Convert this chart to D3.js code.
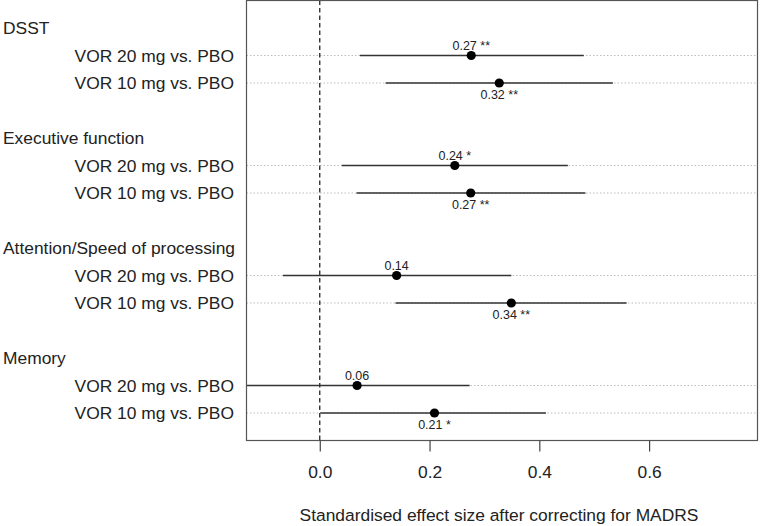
<!DOCTYPE html>
<html><head><meta charset="utf-8">
<script src="https://cdn.jsdelivr.net/npm/d3@7"></script>
<style>body{margin:0;background:#fff}svg{display:block;font-family:"Liberation Sans",Arial,sans-serif}</style>
</head><body><svg id="c" width="760" height="526"></svg>
<script>
const groups = ["DSST", "Executive function", "Attention/Speed of processing", "Memory"];
const comparisons = ["VOR 20 mg vs. PBO", "VOR 10 mg vs. PBO"];
const estimates = [0.276, 0.327, 0.246, 0.275, 0.140, 0.349, 0.068, 0.209];
const lower     = [0.073, 0.120, 0.040, 0.067, -0.067, 0.138, -0.15, 0.001];
const upper     = [0.481, 0.534, 0.452, 0.484, 0.349, 0.559, 0.273, 0.412];
const pointLabels = ["0.27 **", "0.32 **", "0.24 *", "0.27 **", "0.14", "0.34 **", "0.06", "0.21 *"];
const xTicks = [0.0, 0.2, 0.4, 0.6];
const xTickLabels = ["0.0", "0.2", "0.4", "0.6"];
const xTitle = "Standardised effect size after correcting for MADRS";

const svg = d3.select("#c");
const L = 246.5, R = 757.5, T = 0.5, B = 440.5;
const FS = 17.4;
const x = d3.scaleLinear().domain([-0.1335, 0.7975]).range([L, R]);
const y = d3.scaleLinear().domain([-1, 15]).range([T, B]);

const rows = [];
groups.forEach((g, gi) => {
  comparisons.forEach((c, ci) => {
    const i = gi * 2 + ci;
    rows.push({g: gi, c: ci, row: gi * 4 + 1 + ci, est: estimates[i], lo: lower[i], hi: upper[i], lab: pointLabels[i], name: c});
  });
});

svg.append("clipPath").attr("id", "clip").append("rect")
  .attr("x", L).attr("y", T).attr("width", R - L).attr("height", B - T);
const plot = svg.append("g").attr("clip-path", "url(#clip)");

plot.selectAll("line.grid").data(rows).join("line")
  .attr("x1", L).attr("x2", R)
  .attr("y1", d => y(d.row)).attr("y2", d => y(d.row))
  .attr("stroke", "#bdbdbd").attr("stroke-width", 1).attr("stroke-dasharray", "1.5,2");

plot.append("line").attr("x1", x(0)).attr("x2", x(0)).attr("y1", T).attr("y2", B)
  .attr("stroke", "#111").attr("stroke-width", 1.2).attr("stroke-dasharray", "4.5,3");

plot.selectAll("line.ci").data(rows).join("line")
  .attr("x1", d => x(d.lo)).attr("x2", d => x(d.hi))
  .attr("y1", d => y(d.row)).attr("y2", d => y(d.row))
  .attr("stroke", "#333").attr("stroke-width", 1.3);

plot.selectAll("circle").data(rows).join("circle")
  .attr("cx", d => x(d.est)).attr("cy", d => y(d.row)).attr("r", 4.6).attr("fill", "#000");

svg.selectAll("text.pl").data(rows).join("text")
  .attr("x", d => x(d.est))
  .attr("y", d => d.c === 0 ? y(d.row) - 6 : y(d.row) + 16)
  .attr("text-anchor", "middle").attr("font-size", 12.5).attr("fill", "#222")
  .text(d => d.lab);

svg.append("rect").attr("x", L).attr("y", T).attr("width", R - L).attr("height", B - T)
  .attr("fill", "none").attr("stroke", "#555").attr("stroke-width", 1.2);

const ax = svg.append("g").attr("transform", `translate(0,${B})`)
  .call(d3.axisBottom(x).tickValues(xTicks).tickFormat((d, i) => xTickLabels[i]).tickSize(11).tickPadding(14));
ax.select(".domain").remove();
ax.selectAll("line").attr("stroke", "#444").attr("stroke-width", 1.2);
ax.selectAll("text").attr("font-size", FS).attr("fill", "#222").attr("font-family", "Liberation Sans, Arial, sans-serif");

svg.append("text").attr("x", (L + R) / 2 - 3).attr("y", 521).attr("text-anchor", "middle")
  .attr("font-size", FS).attr("fill", "#222").text(xTitle);

svg.selectAll("text.gl").data(groups).join("text")
  .attr("x", 3).attr("y", (d, i) => y(i * 4) + 6)
  .attr("font-size", FS).attr("fill", "#222").text(d => d);

svg.selectAll("text.rl").data(rows).join("text")
  .attr("x", 234).attr("y", d => y(d.row) + 6)
  .attr("text-anchor", "end").attr("font-size", FS).attr("fill", "#222").text(d => d.name);
</script></body></html>
